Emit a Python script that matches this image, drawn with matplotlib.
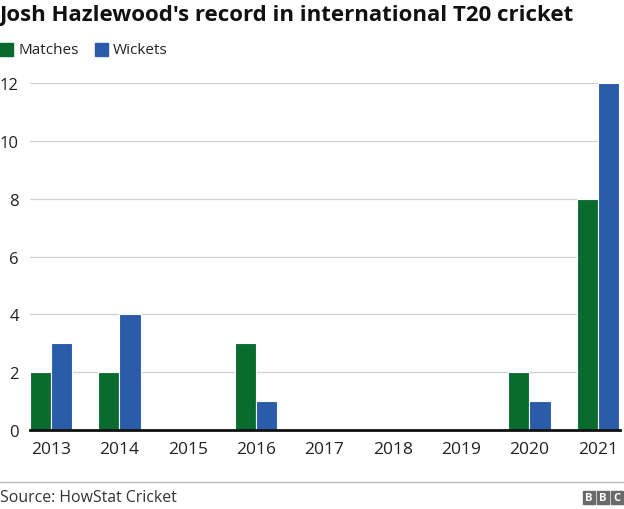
import numpy as np
import matplotlib.pyplot as plt
from matplotlib.patches import Rectangle

years = ["2013", "2014", "2015", "2016", "2017", "2018", "2019", "2020", "2021"]
matches = [2, 2, 0, 3, 0, 0, 0, 2, 8]
wickets = [3, 4, 0, 1, 0, 0, 0, 1, 12]

green = "#0a6b2f"
blue = "#2a5caa"

plt.rcParams["font.family"] = ["Open Sans", "DejaVu Sans"]

fig = plt.figure(figsize=(6.24, 5.10), dpi=100)
ax = fig.add_axes([0.048, 0.155, 0.946, 0.68])

x = np.arange(len(years))
w = 0.31
ax.bar(x - w / 2, matches, width=w, color=green, edgecolor="white", linewidth=0.8)
ax.bar(x + w / 2, wickets, width=w, color=blue, edgecolor="white", linewidth=0.8)

ax.set_xlim(-0.31, 8.33)
ax.set_ylim(0, 12)
ax.set_yticks(range(0, 13, 2))
ax.set_xticks(x)
ax.set_xticklabels(years)
ax.grid(axis="y", color="#d0d0d0", linewidth=0.9)
ax.set_axisbelow(True)
for s in ["top", "right", "left"]:
    ax.spines[s].set_visible(False)
ax.spines["bottom"].set_linewidth(2)
ax.spines["bottom"].set_color("#111111")
ax.tick_params(axis="y", length=0, labelsize=12, pad=8, colors="#222222")
ax.tick_params(axis="x", length=0, labelsize=12.5, pad=8, colors="#222222")

fig.text(0.0, 1 - 15 / 510, "Josh Hazlewood's record in international T20 cricket",
         fontsize=16, fontweight="bold", va="center", ha="left", color="#111111")

# legend
fig.patches.append(Rectangle((0.0, 1 - 57 / 510), 13 / 624, 13 / 510,
                             transform=fig.transFigure, color=green))
fig.text(19 / 624, 1 - 51 / 510, "Matches", fontsize=11, va="center", color="#222222")
fig.patches.append(Rectangle((95 / 624, 1 - 57 / 510), 13 / 624, 13 / 510,
                             transform=fig.transFigure, color=blue))
fig.text(113 / 624, 1 - 51 / 510, "Wickets", fontsize=11, va="center", color="#222222")

# footer
fig.add_artist(plt.Line2D([0, 1], [1 - 483 / 510, 1 - 483 / 510],
                          transform=fig.transFigure, color="#bbbbbb", linewidth=1))
fig.text(0.0, 1 - 498 / 510, "Source: HowStat Cricket", fontsize=11.4,
         va="center", color="#333333")
for i, ch in enumerate("BBC"):
    x0 = (583 + i * 14) / 624
    fig.patches.append(Rectangle((x0, 1 - 505 / 510), 12 / 624, 13 / 510,
                                 transform=fig.transFigure, color="#6a6a6a"))
    fig.text(x0 + 6 / 624, 1 - 498.5 / 510, ch, fontsize=8, fontweight="bold",
             color="white", ha="center", va="center")

fig.savefig("out.png", dpi=100)
